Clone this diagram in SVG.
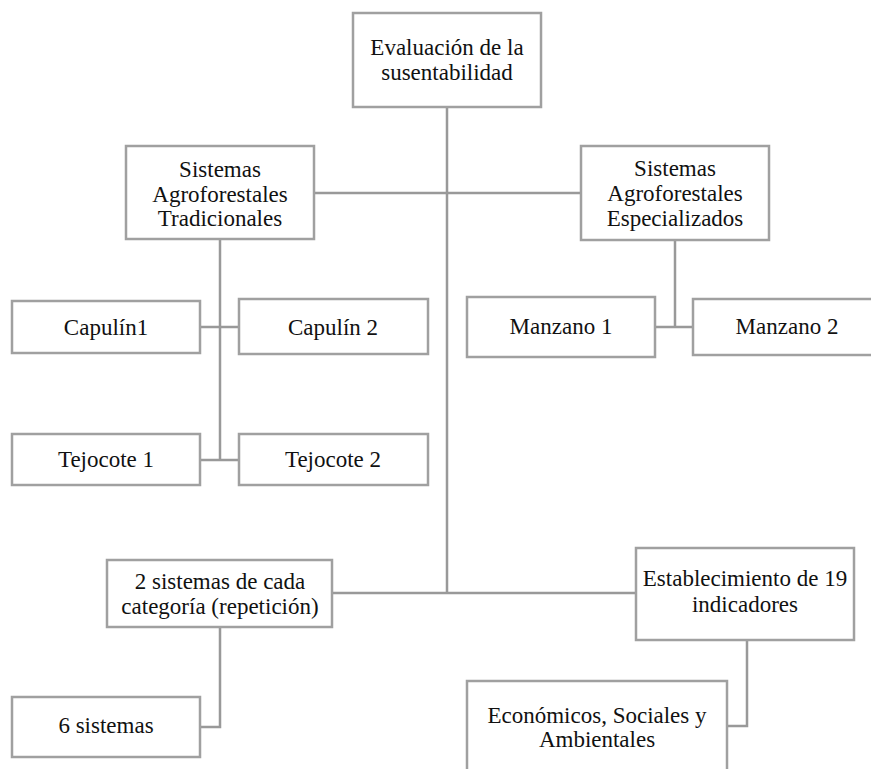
<svg xmlns="http://www.w3.org/2000/svg" width="871" height="769" viewBox="0 0 871 769">
<style>
.box{fill:#ffffff;stroke:#a0a0a0;stroke-width:2.5}
.ln{fill:none;stroke:#999999;stroke-width:2.5}
.t{font-family:'Liberation Serif','Times New Roman','DejaVu Serif',serif;font-size:23px;fill:#111111;text-anchor:middle}
</style>
<rect width="871" height="769" fill="#ffffff"/>
<g id="connectors">
<path class="ln" d="M447 107 V593"/>
<path class="ln" d="M314 193 H581"/>
<path class="ln" d="M220 239 V460"/>
<path class="ln" d="M200 327 H239"/>
<path class="ln" d="M200 460 H239"/>
<path class="ln" d="M675 240 V327"/>
<path class="ln" d="M655 327 H693"/>
<path class="ln" d="M332 593 H636"/>
<path class="ln" d="M220 627 V727 H200"/>
<path class="ln" d="M747 640 V726 H727"/>
</g>
<g class="t" font-family="Liberation Serif, Times New Roman, DejaVu Serif, serif">
<g id="n-evaluacion">
<rect class="box" x="353" y="13" width="188" height="94"/>
<text x="447" y="55">Evaluación de la</text>
<text x="447" y="80">susentabilidad</text>
</g>
<g id="n-tradicionales">
<rect class="box" x="126" y="146" width="188" height="93"/>
<text x="220" y="177">Sistemas</text>
<text x="220" y="202">Agroforestales</text>
<text x="220" y="226">Tradicionales</text>
</g>
<g id="n-especializados">
<rect class="box" x="581" y="146" width="188" height="94"/>
<text x="675" y="176">Sistemas</text>
<text x="675" y="201">Agroforestales</text>
<text x="675" y="226">Especializados</text>
</g>
<g id="n-capulin1">
<rect class="box" x="12" y="301" width="188" height="52"/>
<text x="106" y="335">Capulín1</text>
</g>
<g id="n-capulin2">
<rect class="box" x="239" y="299" width="189" height="55"/>
<text x="333" y="335">Capulín 2</text>
</g>
<g id="n-manzano1">
<rect class="box" x="467" y="297" width="188" height="60"/>
<text x="561" y="334">Manzano 1</text>
</g>
<g id="n-manzano2">
<rect class="box" x="693" y="299" width="190" height="56"/>
<text x="787" y="334">Manzano 2</text>
</g>
<g id="n-tejocote1">
<rect class="box" x="12" y="434" width="188" height="51"/>
<text x="106" y="467">Tejocote 1</text>
</g>
<g id="n-tejocote2">
<rect class="box" x="239" y="434" width="189" height="51"/>
<text x="333" y="467">Tejocote 2</text>
</g>
<g id="n-repeticion">
<rect class="box" x="107" y="560" width="225" height="67"/>
<text x="220" y="589">2 sistemas de cada</text>
<text x="220" y="614">categoría (repetición)</text>
</g>
<g id="n-indicadores">
<rect class="box" x="636" y="548" width="218" height="92"/>
<text x="745" y="586">Establecimiento de 19</text>
<text x="745" y="612">indicadores</text>
</g>
<g id="n-6sistemas">
<rect class="box" x="12" y="697" width="188" height="60"/>
<text x="106" y="733">6 sistemas</text>
</g>
<g id="n-economicos">
<rect class="box" x="467" y="681" width="260" height="100"/>
<text x="597" y="723">Económicos, Sociales y</text>
<text x="597" y="747">Ambientales</text>
</g>
</g>
</svg>
